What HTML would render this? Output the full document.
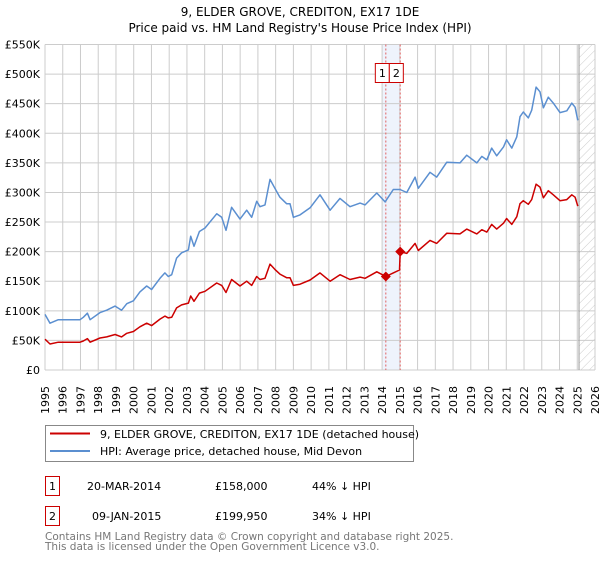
<!DOCTYPE html>
<html><head><meta charset="utf-8"><style>
body{margin:0;background:#fff;width:600px;height:560px;overflow:hidden;font-family:"Liberation Sans","DejaVu Sans",sans-serif}
svg text{font-family:"DejaVu Sans","Liberation Sans",sans-serif}
</style></head><body>
<svg id="chart" width="600" height="560" xmlns="http://www.w3.org/2000/svg">
<text x="300" y="16" text-anchor="middle" font-size="12">9, ELDER GROVE, CREDITON, EX17 1DE</text>
<text x="300" y="32" text-anchor="middle" font-size="12">Price paid vs. HM Land Registry's House Price Index (HPI)</text>
<defs><pattern id="hatch" width="6" height="6" patternUnits="userSpaceOnUse" patternTransform="rotate(45)"><line x1="0" y1="0" x2="0" y2="6" stroke="#ccc" stroke-width="1"/></pattern></defs>
<g id="grid"></g><g id="marks"></g>
<rect x="45.5" y="425.5" width="368" height="36" fill="#fff" stroke="#888"/>
<line x1="50" y1="433.5" x2="90" y2="433.5" stroke="#cc0000" stroke-width="2"/>
<text x="100" y="438" font-size="11">9, ELDER GROVE, CREDITON, EX17 1DE (detached house)</text>
<line x1="50" y1="451" x2="90" y2="451" stroke="#5b8fd0" stroke-width="2"/>
<text x="100" y="455" font-size="11">HPI: Average price, detached house, Mid Devon</text>
<rect x="45.5" y="476.5" width="14" height="19" fill="#fff" stroke="#cc0000"/>
<text x="52.5" y="490" text-anchor="middle" font-size="11">1</text>
<text x="87" y="490" font-size="11">20-MAR-2014</text>
<text x="215" y="490" font-size="11">£158,000</text>
<text x="312" y="490" font-size="11">44% ↓ HPI</text>
<rect x="45.5" y="506.5" width="14" height="19" fill="#fff" stroke="#cc0000"/>
<text x="52.5" y="520" text-anchor="middle" font-size="11">2</text>
<text x="92" y="520" font-size="11">09-JAN-2015</text>
<text x="215" y="520" font-size="11">£199,950</text>
<text x="312" y="520" font-size="11">34% ↓ HPI</text>
<text x="45" y="540" font-size="10.5" fill="#777">Contains HM Land Registry data © Crown copyright and database right 2025.</text>
<text x="45" y="550" font-size="10.5" fill="#777">This data is licensed under the Open Government Licence v3.0.</text>
</svg>
<script>
const hpiYears=[1995.0,1995.28,1995.75,1996.97,1997.16,1997.39,1997.54,1998.10,1998.48,1998.95,1999.32,1999.61,1999.98,2000.35,2000.73,2001.01,2001.48,2001.76,2001.95,2002.14,2002.42,2002.70,2003.08,2003.21,2003.40,2003.70,2004.02,2004.68,2004.96,2005.20,2005.52,2005.99,2006.37,2006.65,2006.93,2007.12,2007.40,2007.68,2007.96,2008.24,2008.62,2008.81,2009.0,2009.37,2009.94,2010.50,2011.07,2011.63,2012.19,2012.76,2013.04,2013.70,2014.17,2014.63,2015.01,2015.39,2015.86,2016.04,2016.70,2017.08,2017.64,2018.39,2018.77,2019.34,2019.62,2019.90,2020.18,2020.46,2020.84,2021.02,2021.31,2021.59,2021.77,2021.96,2022.24,2022.43,2022.68,2022.90,2023.09,2023.37,2023.65,2024.03,2024.41,2024.69,2024.88,2025.03];
const hpiValues=[94,79,85,85,89,96,85,97,101,108,101,112,117,132,142,136,155,164,158,161,189,198,203,226,209,234,240,264,258,236,275,255,270,258,285,276,279,322,307,292,281,281,258,262,274,296,270,290,276,282,279,299,284,305,305,300,326,307,334,326,351,350,363,350,361,355,375,362,377,389,375,394,428,436,426,439,478,470,443,461,451,435,438,451,444,422];
const propYears=[1995.0,1995.28,1995.75,1996.97,1997.16,1997.39,1997.54,1998.10,1998.48,1998.95,1999.32,1999.61,1999.98,2000.35,2000.73,2001.01,2001.48,2001.76,2001.95,2002.14,2002.42,2002.70,2003.08,2003.21,2003.40,2003.70,2004.02,2004.68,2004.96,2005.20,2005.52,2005.99,2006.37,2006.65,2006.93,2007.12,2007.40,2007.68,2007.96,2008.24,2008.62,2008.81,2009.0,2009.37,2009.94,2010.50,2011.07,2011.63,2012.19,2012.76,2013.04,2013.70,2014.21,2014.63,2014.98,2015.02,2015.39,2015.86,2016.04,2016.70,2017.08,2017.64,2018.39,2018.77,2019.34,2019.62,2019.90,2020.18,2020.46,2020.84,2021.02,2021.31,2021.59,2021.77,2021.96,2022.24,2022.43,2022.68,2022.90,2023.09,2023.37,2023.65,2024.03,2024.41,2024.69,2024.88,2025.03];
const propValues=[52,44,47,47,49,53,47,54,56,60,56,62,65,73,79,75,86,91,88,89,105,110,113,125,116,130,133,147,143,131,153,142,150,143,158,153,155,179,170,162,156,156,143,145,152,164,150,161,153,157,155,166,158,164,169,199.95,197,214,202,219,214,231,230,238,230,237,233,246,238,248,256,246,259,281,286,280,288,314,309,291,303,296,286,288,296,292,277];
const saleYears=[2014.21,2015.02];
const saleValues=[158,199.95];
const saleLabels=["1","2"];
const yTicks=[0,50,100,150,200,250,300,350,400,450,500,550];
const yTickLabels=["£0","£50K","£100K","£150K","£200K","£250K","£300K","£350K","£400K","£450K","£500K","£550K"];
const xTicks=[1995,1996,1997,1998,1999,2000,2001,2002,2003,2004,2005,2006,2007,2008,2009,2010,2011,2012,2013,2014,2015,2016,2017,2018,2019,2020,2021,2022,2023,2024,2025,2026];

const NS="http://www.w3.org/2000/svg";
const L=45,R=595,T=44.5,B=370,X0=1995,X1=2026,YMAX=550;
const xs=v=>L+(v-X0)/(X1-X0)*(R-L);
const ys=v=>B-v/YMAX*(B-T);
function mk(parent,tag,attrs){const e=document.createElementNS(NS,tag);for(const k in attrs)e.setAttribute(k,attrs[k]);parent.appendChild(e);return e;}
const grid=document.getElementById('grid'),marks=document.getElementById('marks');
const hatch=mk(grid,'rect',{x:xs(2025.1),y:T,width:R-xs(2025.1),height:B-T,fill:'url(#hatch)'});


const band=mk(grid,'rect',{x:xs(2014.0),y:T,width:xs(saleYears[1])-xs(2014.0),height:B-T,fill:'#eef3fc'});


xTicks.forEach(t=>{
  const g=mk(grid,'line',{x1:xs(t),x2:xs(t),y1:T,y2:B,stroke:'#ccc','stroke-width':1});
  
  
  const tx=mk(grid,'text',{x:0,y:0,'font-size':11,transform:`translate(${xs(t)+4},414) rotate(-90)`});
  
  
  tx.textContent=t;
});
yTicks.forEach((t,i)=>{
  const g=mk(grid,'line',{x1:L,x2:R,y1:ys(t),y2:ys(t),stroke:'#ccc','stroke-width':1});
  
  
  const tx=mk(grid,'text',{x:40,y:ys(t)+4,'font-size':11,'text-anchor':'end'});
  
  
  tx.textContent=yTickLabels[i];
});
const nowLine=mk(grid,'line',{x1:xs(2025.1),x2:xs(2025.1),y1:T,y2:B,stroke:'#999','stroke-width':1});


saleYears.forEach((y,i)=>{
  const l=mk(marks,'line',{x1:xs(y),x2:xs(y),y1:T,y2:B,stroke:'#e06060','stroke-width':1,'stroke-dasharray':'2,2'});
  
  
});
function path(xa,va,color,name){
  const d=xa.map((x,i)=>(i?'L':'M')+xs(x).toFixed(1)+','+ys(va[i]).toFixed(1)).join('');
  const p=mk(marks,'path',{d:d,fill:'none',stroke:color,'stroke-width':1.5,'stroke-linejoin':'round'});
  
  
}
path(hpiYears,hpiValues,'#5b8fd0','hpi-line');
path(propYears,propValues,'#cc0000','property-price-line');
const badgeStart=xs(saleYears[0])-11;
saleYears.forEach((y,i)=>{
  const cx=xs(y),cy=ys(saleValues[i]);
  const m=mk(marks,'path',{d:`M${cx},${cy-5}L${cx+5},${cy}L${cx},${cy+5}L${cx-5},${cy}Z`,fill:'#cc0000'});
  
  
  const bx=badgeStart+i*14;
  const r=mk(marks,'rect',{x:bx+0.5,y:63.5,width:14,height:19,fill:'#fff',stroke:'#cc0000'});
  
  
  const t=mk(marks,'text',{x:bx+7.5,y:77,'font-size':11,'text-anchor':'middle'});
  
  
  t.textContent=saleLabels[i];
});
</script>
</body></html>
